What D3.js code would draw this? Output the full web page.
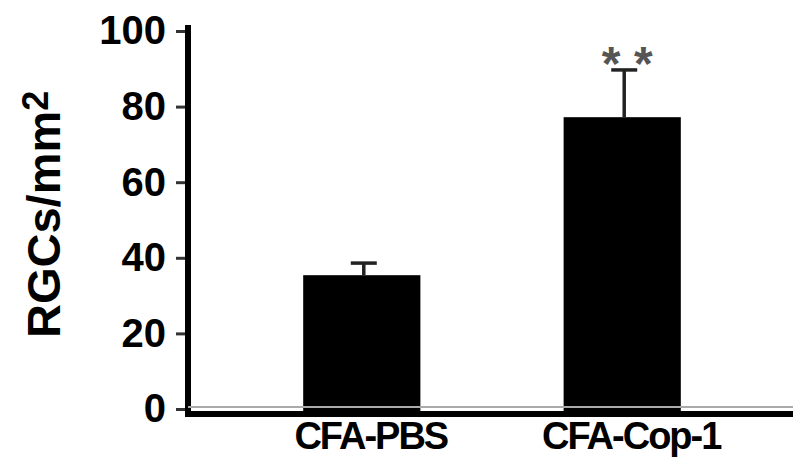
<!DOCTYPE html>
<html>
<head>
<meta charset="utf-8">
<script src="https://cdn.jsdelivr.net/npm/d3@7"></script>
<style>
  body { margin: 0; background: #fff; }
  text { font-family: "Liberation Sans", Arial, sans-serif; font-weight: bold; }
</style>
</head>
<body>
<div id="chart"></div>
<script>
// data
var groups = ["CFA-PBS", "CFA-Cop-1"];
var means = [35.4, 77.2];
var errors = [3.2, 12.5];
var sigMarks = ["", "* *"];
var yTicks = [0, 20, 40, 60, 80, 100];

var width = 793, height = 459;

var svg = d3.select("#chart")
    .append("svg")
    .attr("width", width)
    .attr("height", height);

var data = groups.map(function (g, i) {
    return { group: g, mean: means[i], err: errors[i], sig: sigMarks[i] };
});

// scales
var y = d3.scaleLinear()
    .domain([0, 100])
    .range([409, 31]);

var x = d3.scaleBand()
    .domain(groups)
    .range([186, 798])
    .paddingInner(0.55)
    .paddingOuter(0.45);

var axisX = 188;   // y axis position
var baseY = 414;   // x axis position

// bars
svg.selectAll(".bar")
    .data(data)
    .enter()
    .append("rect")
    .attr("class", "bar")
    .attr("x", function (d) { return x(d.group); })
    .attr("width", x.bandwidth())
    .attr("y", function (d) { return y(d.mean); })
    .attr("height", function (d) { return baseY - y(d.mean); })
    .attr("fill", "#000");

// error bars (upper only)
svg.selectAll(".stem")
    .data(data)
    .enter()
    .append("line")
    .attr("x1", function (d) { return x(d.group) + x.bandwidth() / 2 + 2; })
    .attr("x2", function (d) { return x(d.group) + x.bandwidth() / 2 + 2; })
    .attr("y1", function (d) { return y(d.mean); })
    .attr("y2", function (d) { return y(d.mean + d.err); })
    .attr("stroke", "#222")
    .attr("stroke-width", 3.5);

svg.selectAll(".cap")
    .data(data)
    .enter()
    .append("line")
    .attr("x1", function (d) { return x(d.group) + x.bandwidth() / 2 + 2 - 13; })
    .attr("x2", function (d) { return x(d.group) + x.bandwidth() / 2 + 2 + 13; })
    .attr("y1", function (d) { return y(d.mean + d.err); })
    .attr("y2", function (d) { return y(d.mean + d.err); })
    .attr("stroke", "#222")
    .attr("stroke-width", 3.5);

// significance stars
svg.selectAll(".sig")
    .data(data)
    .enter()
    .append("text")
    .attr("x", function (d) { return x(d.group) + x.bandwidth() / 2 + 5; })
    .attr("y", function (d) { return y(d.mean + d.err) + 10; })
    .attr("text-anchor", "middle")
    .style("font-size", "48px")
    .style("fill", "#555")
    .text(function (d) { return d.sig; });

// Y axis
var yAxis = svg.append("g")
    .attr("transform", "translate(" + axisX + ",0)")
    .call(d3.axisLeft(y).tickValues(yTicks).tickSize(12).tickPadding(10).tickSizeOuter(0));
yAxis.select(".domain").remove();
yAxis.selectAll(".tick line").attr("stroke", "#333").attr("stroke-width", 3);
yAxis.selectAll(".tick text")
    .style("font-size", "40px")
    .style("fill", "#000")
    .attr("font-family", null);

svg.append("line")
    .attr("x1", axisX).attr("x2", axisX)
    .attr("y1", y(100) - 6).attr("y2", baseY + 3)
    .attr("stroke", "#000")
    .attr("stroke-width", 6);

// X axis
svg.append("line")
    .attr("x1", axisX).attr("x2", width)
    .attr("y1", y(0) - 2).attr("y2", y(0) - 2)
    .attr("stroke", "#aaa")
    .attr("stroke-width", 2);

var xAxis = svg.append("g")
    .attr("transform", "translate(0," + baseY + ")")
    .call(d3.axisBottom(x).tickSize(0).tickPadding(8));
xAxis.select(".domain").remove();
xAxis.selectAll(".tick text")
    .attr("dx", 9)
    .style("font-size", "38px")
    .style("letter-spacing", "-2px")
    .style("fill", "#000")
    .attr("font-family", null);

svg.append("line")
    .attr("x1", axisX - 3).attr("x2", width)
    .attr("y1", baseY).attr("y2", baseY)
    .attr("stroke", "#000")
    .attr("stroke-width", 6);

// Y axis label
var yLabel = svg.append("text")
    .attr("transform", "rotate(-90)")
    .attr("x", -338)
    .attr("y", 60)
    .attr("text-anchor", "start")
    .style("font-size", "47px")
    .style("fill", "#000");
yLabel.append("tspan").text("RGCs/mm");
yLabel.append("tspan")
    .attr("dy", -12)
    .style("font-size", "36px")
    .text("2");
</script>
</body>
</html>
